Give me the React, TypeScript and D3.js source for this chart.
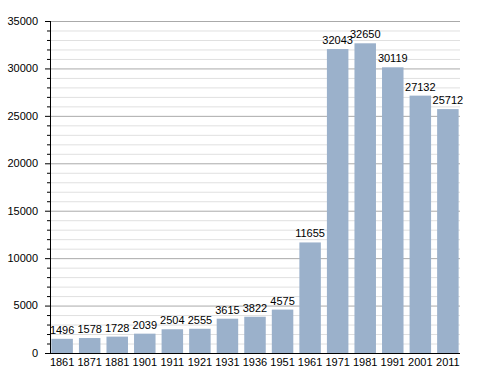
import React from "react";
import * as d3 from "d3";

const years = ["1861", "1871", "1881", "1901", "1911", "1921", "1931", "1936", "1951", "1961", "1971", "1981", "1991", "2001", "2011"];
const population = [1496, 1578, 1728, 2039, 2504, 2555, 3615, 3822, 4575, 11655, 32043, 32650, 30119, 27132, 25712];
const majorTicks = [0, 5000, 10000, 15000, 20000, 25000, 30000, 35000];

const App = () => {
  const width = 488;
  const height = 373;
  const left = 50;
  const right = 460;
  const top = 21;
  const bottom = 353;

  const x = d3.scaleBand().domain(years).range([left, right]).paddingInner(0.22).paddingOuter(0.05);
  const y = d3.scaleLinear().domain([0, 35000]).range([bottom, top]);

  // light lines every 1000, darker every 5000
  const minorTicks = d3.range(0, 35001, 1000).filter((v) => v % 5000 !== 0);
  const font = "Liberation Sans, Arial, sans-serif";

  return (
    <svg width={width} height={height} style={{ position: "absolute", left: 0, top: 0, background: "#fff" }}>
      {minorTicks.map((v) => (
        <g key={"m" + v}>
          <line x1={left} x2={right} y1={y(v) + 0.5} y2={y(v) + 0.5} stroke="#e0e0e0" />
          <line x1={left - 3} x2={left} y1={y(v) + 0.5} y2={y(v) + 0.5} stroke="#000" />
        </g>
      ))}
      {majorTicks.map((v) => (
        <g key={"M" + v}>
          {v > 0 && <line x1={left} x2={right} y1={y(v) + 0.5} y2={y(v) + 0.5} stroke="#aaa" />}
          <line x1={left - 5} x2={left} y1={y(v) + 0.5} y2={y(v) + 0.5} stroke="#000" />
          <text x={38} y={y(v)} dy="0.35em" textAnchor="end" fontSize={11} fontFamily={font} fill="#000">
            {v}
          </text>
        </g>
      ))}

      {years.map((yr, i) => (
        <g key={yr}>
          <rect x={x(yr)} y={y(population[i])} width={x.bandwidth()} height={bottom - y(population[i])} fill="#9bb1cb" />
          <text x={(x(yr) as number) + x.bandwidth() / 2} y={y(population[i]) - 5} textAnchor="middle" fontSize={11} fontFamily={font} fill="#000">
            {population[i]}
          </text>
          <text x={(x(yr) as number) + x.bandwidth() / 2} y={bottom + 13} textAnchor="middle" fontSize={11} fontFamily={font} fill="#000">
            {yr}
          </text>
        </g>
      ))}

      <line x1={left + 0.5} x2={left + 0.5} y1={top} y2={bottom} stroke="#000" />
      <line x1={left} x2={right} y1={bottom + 0.5} y2={bottom + 0.5} stroke="#000" />
    </svg>
  );
};

export default App;
